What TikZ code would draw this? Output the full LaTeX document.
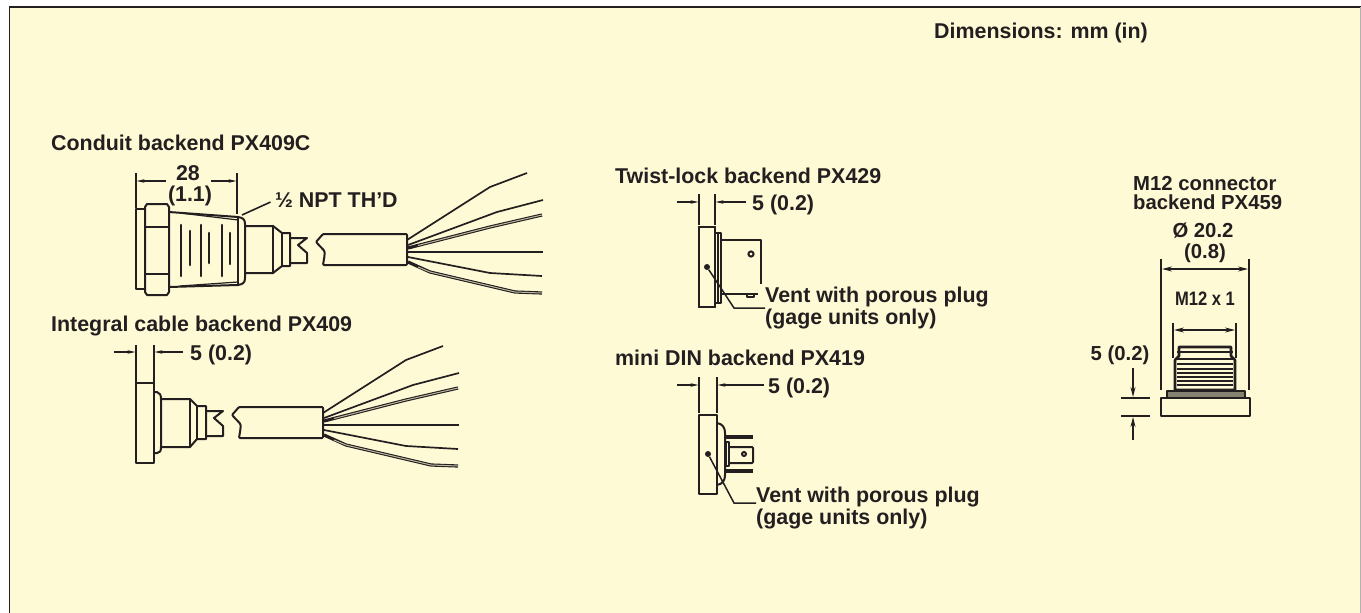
\documentclass[tikz,border=0pt]{standalone}
\usepackage{fontspec}
\setmainfont{Liberation Sans}
\usetikzlibrary{arrows.meta}
\definecolor{panelfill}{HTML}{FFFAD6}
\definecolor{inkcol}{HTML}{231F20}
\tikzset{
    lab/.style={font=\bfseries\fontsize{21.4}{22}\selectfont, text=inkcol, inner sep=0pt},
    lablines/.style={lab, align=left},
    mlab/.style={lab, font=\bfseries\fontsize{20.3}{19}\selectfont},
    part/.style={draw=inkcol, line width=2pt, line join=round},
    heavy/.style={draw=inkcol, line width=2.6pt, line cap=round},
    thin line/.style={draw=inkcol, line width=1.2pt},
    dimline/.style={draw=inkcol, line width=1.2pt, -{Stealth[length=8pt,width=3.5pt]}},
    bothdim/.style={draw=inkcol, line width=1.2pt, {Stealth[length=10pt,width=5pt]}-{Stealth[length=10pt,width=5pt]}},
    wire/.style={draw=inkcol, line width=1.7pt, line join=round},
    dblwire/.style={draw=inkcol, line width=3.2pt, line join=round},
    dblcore/.style={draw=panelfill!70!inkcol, line width=1pt, line join=round}
}
% cable end and its six wires, drawn from the left end of the jacket
\newcommand{\cablewires}{%
    \draw[part, rounded corners=1pt] (0,0) -- (84,0) -- (84,31) -- (0,31) -- (1.5,22) -- (1.5,17) -- (-7,8) -- cycle;
    \draw[wire] (84,6) -- (167,-47) -- (204,-61);
    \draw[wire] (85,11) -- (174,-22) -- (220,-34);
    \draw[dblwire] (85,14) -- (167,-7) -- (219,-19);
    \draw[dblcore] (95,11.5) -- (167,-7) -- (219,-19);
    \draw[wire] (85,18) -- (220,18);
    \draw[wire] (85,23) -- (167,39) -- (219,42);
    \draw[dblwire] (85,28) -- (107,38) -- (192,58) -- (219,59);
    \draw[dblcore] (95,33) -- (107,38) -- (192,58) -- (219,59);
}
\newcommand{\cablestub}{%
    \draw[part] (0,0) -- (17,0) -- (8,7) -- (17,15) -- (17,25) -- (0,25);
}
\begin{document}
\begin{tikzpicture}[x=1pt,y=-1pt]
    \useasboundingbox (0,0) rectangle (1361,613);
    % Panel
    \fill[panelfill] (10,7) rectangle (1360,613);
    \draw[inkcol, line width=1.3pt] (9.5,613) -- (9.5,7) -- (1361,7);
    \draw[gray!60, line width=.8pt] (1360.5,7) -- (1360.5,613);

    \node[lab, anchor=west] (dimnote) at (934,33) {Dimensions: mm (in)};

    % Conduit backend
    \node[lab, anchor=west] (conduit) at (51,143) {Conduit backend PX409C};
    \node[lab] (dimtop) at (188,173) {28};
    \node[lab] (dimbot) at (190,196) {(1.1)};
    \node[lab, anchor=west] (npt) at (275,200) {½ NPT TH’D};
    \draw[thin line] (136,173) -- (136,208);
    \draw[thin line] (237,173) -- (237,214);
    \draw[dimline] (166,181) -- (136.5,181);
    \draw[dimline] (211,181) -- (236.5,181);
    \draw[part] (136,209) rectangle (145,289);
    \draw[part, fill=panelfill] (145,207) -- (147,204) -- (167,204) -- (169,207) -- (169,292) -- (167,295) -- (147,295) -- (145,292) -- cycle;
    \draw[part] (145,227) -- (169,227);
    \draw[part] (145,274) -- (169,274);
    \draw[part] (169,212) -- (238,217) .. controls (243,218) and (245,219) .. (245,224) -- (245,278) .. controls (245,283) and (243,284) .. (238,285) -- (169,287);
    \draw[thin line] (180,213) -- (238,220) (180,286) -- (238,282);
    \draw[part] (238,217) -- (238,285);
    \draw[part] (245,226) -- (273,226) -- (282,233) -- (290,233) -- (290,266) -- (282,266) -- (273,273) -- (245,273);
    \draw[heavy] (273,226) -- (273,273);
    \draw[part] (282,233) -- (282,266);
    \draw[heavy] (181,225) -- (181,276);
    \draw[heavy] (190,231) -- (190,265);
    \draw[heavy] (201,225) -- (201,276);
    \draw[heavy] (209,233) -- (209,263);
    \draw[heavy] (222,225) -- (222,276);
    \draw[heavy] (230,233) -- (230,264);
    \begin{scope}[shift={(290,238)}]
        \cablestub
    \end{scope}
    \begin{scope}[shift={(323,234)}]
        \cablewires
    \end{scope}
    \coordinate (nptfoot) at (242,215);
    \draw[thin line, line width=1.6pt, shorten >=5pt] (nptfoot) -- (npt.west);

    % Integral cable backend
    \node[lab, anchor=west] (integral) at (51,326) {Integral cable backend PX409};
    \node[lab, anchor=west] (intdim) at (190,355) {5 (0.2)};
    \draw[thin line] (136,345) -- (136,383);
    \draw[thin line] (154,345) -- (154,383);
    \draw[dimline] (114,352) -- (135.5,352);
    \draw[dimline] (183,352) -- (154.5,352);
    \draw[part] (136,383) rectangle (154,463);
    \draw[part] (154,392) -- (157,392) .. controls (160,393) and (161,395) .. (161,399) -- (161,447) .. controls (161,451) and (160,453) .. (157,453) -- (154,453);
    \draw[part] (161,399) -- (190,399) -- (197,406) -- (206,406) -- (206,439) -- (197,439) -- (190,447) -- (161,447);
    \draw[part] (190,399) -- (190,447);
    \draw[part] (197,406) -- (197,439);
    \begin{scope}[shift={(206,411)}]
        \cablestub
    \end{scope}
    \begin{scope}[shift={(239,407)}]
        \cablewires
    \end{scope}

    % Twist-lock backend
    \node[lab, anchor=west] (twist) at (615,176) {Twist-lock backend PX429};
    \node[lab, anchor=west] (twistdim) at (752,205) {5 (0.2)};
    \node[lablines, anchor=north west] (twistvent) at (765,287) {Vent with porous plug\\(gage units only)};
    \draw[thin line] (699,194) -- (699,225);
    \draw[thin line] (715,194) -- (715,225);
    \draw[dimline] (677,202) -- (698.5,202);
    \draw[dimline] (746,202) -- (715.5,202);
    \draw[part] (699,227) rectangle (715,307);
    \draw[heavy] (699,227) -- (715,227) (699,307) -- (715,307);
    \draw[part] (715,233) -- (721,233) -- (721,303) -- (715,303);
    \draw[part] (718,233) -- (718,303);
    \draw[part] (721,240) -- (761,240) -- (761,284);
    \draw[part] (721,294) -- (758,294);
    \draw[part] (747,294) -- (747,297) -- (754,297) -- (754,294);
    \draw[part] (751,254) circle (2.6);
    \node[circle, fill=inkcol, minimum size=6pt, inner sep=0pt] (twistdot) at (707,267) {};
    \coordinate (twistbend) at (734,308);
    \draw[thin line, line width=1.5pt] (twistdot) -- (twistbend) -- (twistvent.west |- twistbend);

    % mini DIN backend
    \node[lab, anchor=west] (din) at (615,358) {mini DIN backend PX419};
    \node[lab, anchor=west] (dindim) at (768,388) {5 (0.2)};
    \node[lablines, anchor=north west] (dinvent) at (756,487) {Vent with porous plug\\(gage units only)};
    \draw[thin line] (699,377) -- (699,413);
    \draw[thin line] (717,377) -- (717,413);
    \draw[dimline] (677,385) -- (698.5,385);
    \draw[dimline] (764,385) -- (717.5,385);
    \draw[part] (699,415) rectangle (717,494);
    \draw[part] (717,423) .. controls (723,424) and (725,428) .. (725,433) -- (725,475) .. controls (725,480) and (723,484) .. (717,485);
    \draw[dblwire] (726,437) -- (753,437);
    \draw[dblwire] (726,471) -- (753,471);
    \draw[part] (726,442) rectangle (729,466);
    \draw[part, rounded corners=1pt] (729,447) -- (753,447) -- (753,463) -- (729,463);
    \draw[part] (744,454) circle (2);
    \node[circle, fill=inkcol, minimum size=6pt, inner sep=0pt] (dindot) at (708,454) {};
    \coordinate (dinbend) at (734,503);
    \draw[thin line, line width=1.5pt] (dindot) -- (dinbend) -- (dinvent.west |- dinbend);

    % M12 connector backend
    \node[mlab, align=left, anchor=north west] (mtitle) at (1133,176) {M12 connector\\backend PX459};
    \node[mlab] (mdia) at (1203,231) {Ø 20.2};
    \node[mlab] (mdiain) at (1205,253) {(0.8)};
    \node[lab, font=\bfseries\fontsize{19.5}{20}\selectfont, xscale=.85] (mthread) at (1205,299) {M12 x 1};
    \node[mlab] (mdim) at (1120,355) {5 (0.2)};
    \draw[thin line] (1161,259) -- (1161,390);
    \draw[thin line] (1249,259) -- (1249,390);
    \draw[bothdim] (1162,269) -- (1248,269);
    \draw[thin line] (1173,323) -- (1173,358);
    \draw[thin line] (1236,323) -- (1236,358);
    \draw[bothdim] (1174,330) -- (1235,330);
    \draw[part, line width=2.6pt] (1175,390) -- (1175,360) -- (1179,356) -- (1179,347) -- (1231,347) -- (1231,356) -- (1235,360) -- (1235,390) -- cycle;
    \foreach \yy in {352,359,364,369,373,377,381,385} {
        \draw[part, line width=2pt] (1177,\yy) -- (1233,\yy);
    }
    \draw[part, line width=2.4pt, fill=inkcol!55!panelfill] (1167,397) -- (1167,391) -- (1245,391) -- (1245,397);
    \draw[part, line width=2.6pt] (1161,398) rectangle (1250,416);
    \draw[thin line] (1121,398) -- (1150,398);
    \draw[thin line] (1121,416) -- (1150,416);
    \draw[dimline, -{Stealth[length=10pt,width=5pt]}] (1133,368) -- (1133,397);
    \draw[dimline, -{Stealth[length=10pt,width=5pt]}] (1133,440) -- (1133,417);
\end{tikzpicture}
\end{document}
